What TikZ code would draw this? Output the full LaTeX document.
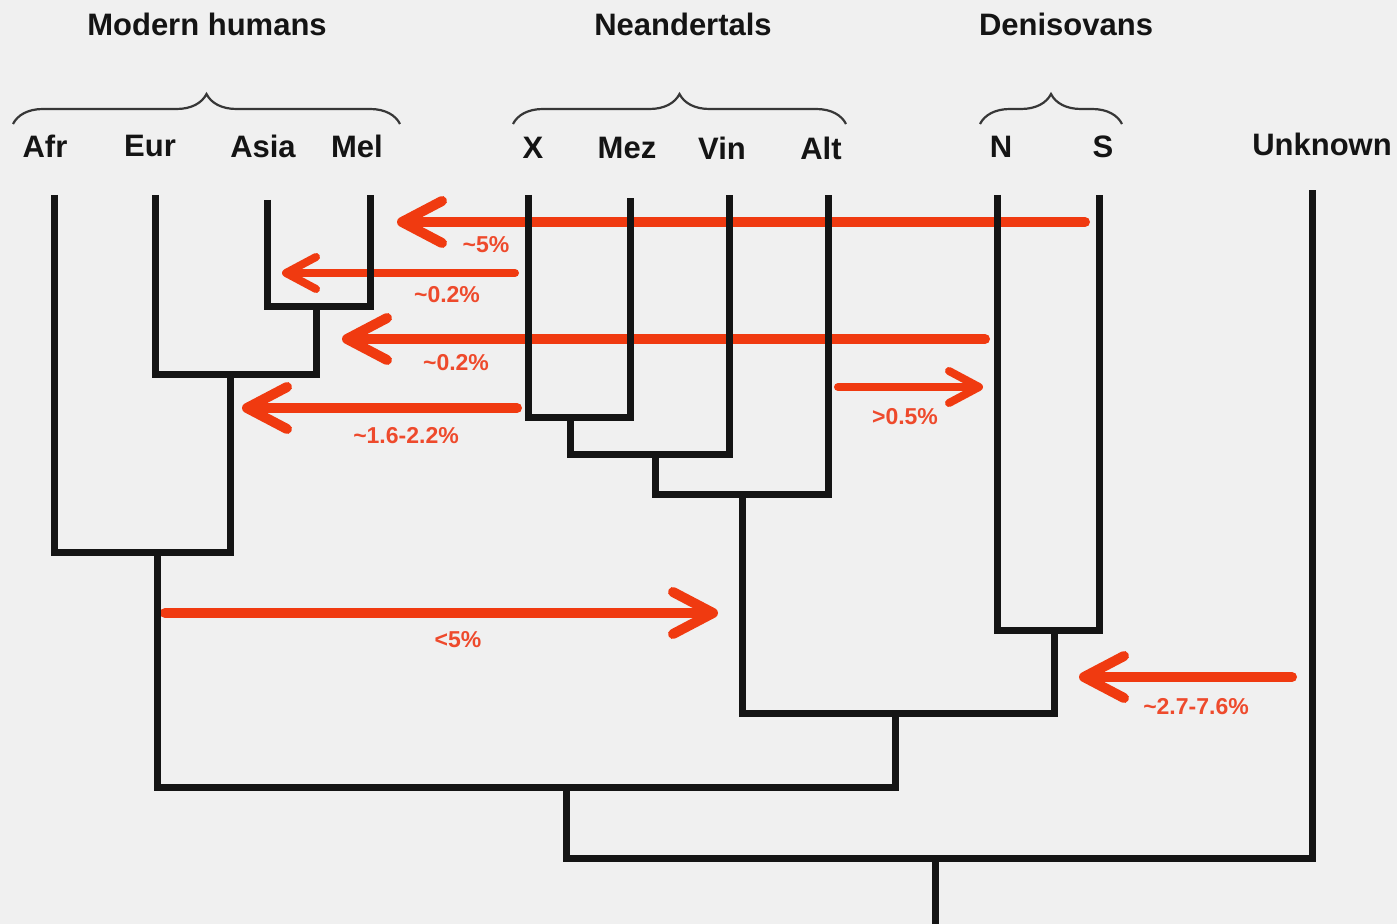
\documentclass[tikz,border=0pt]{standalone}
\usepackage{fontspec}
\setmainfont{Liberation Sans}
\usetikzlibrary{arrows.meta,decorations.pathreplacing}
\definecolor{bg}{HTML}{F0F0F0}
\definecolor{arr}{HTML}{F03A10}
\definecolor{lab}{HTML}{EE4A2C}
\definecolor{ink}{HTML}{141414}
\newcommand{\tld}{\char"007E\relax}
\begin{document}
\begin{tikzpicture}[x=0.5pt,y=-0.5pt,
  tree/.style={line width=3.5pt,draw=ink,line join=miter},
  mig/.style={line width=5pt,draw=arr,line cap=round,-{Straight Barb[round,length=20pt,width=21pt]}},
  migs/.style={line width=4pt,draw=arr,line cap=round,-{Straight Barb[round,length=15pt,width=16pt]}},
  grp/.style={font=\fontsize{15.5}{18}\selectfont\bfseries,text=ink,inner sep=0pt},
  tip/.style={font=\fontsize{15.5}{18}\selectfont\bfseries,text=ink,inner sep=0pt},
  lbl/.style={font=\fontsize{11.5}{13}\selectfont\bfseries,text=lab,inner sep=0pt},
  brc/.style={draw=ink!85,line width=1.1pt,decorate,decoration={brace,amplitude=15pt}}]
\fill[bg] (0,0) rectangle (1397,924);
\useasboundingbox (0,0) rectangle (1397,924);

% group titles
\node[grp] (tmh) at (207,24) {Modern humans};
\node[grp] (tne) at (683,24) {Neandertals};
\node[grp] (tde) at (1066,24) {Denisovans};

% braces
\draw[brc] (13,124) -- (400,124);
\draw[brc] (513,124) -- (846,124);
\draw[brc] (980,124) -- (1122,124);

% tip labels
\node[tip] (lafr) at (45,146) {Afr};
\node[tip] (leur) at (150,146) {Eur};
\node[tip] (lasia) at (263,146) {Asia};
\node[tip] (lmel) at (357,146) {Mel};
\node[tip] (lx) at (533,148) {X};
\node[tip] (lmez) at (627,148) {Mez};
\node[tip] (lvin) at (722,148) {Vin};
\node[tip] (lalt) at (821,148) {Alt};
\node[tip] (ln) at (1001,147) {N};
\node[tip] (ls) at (1103,147) {S};
\node[tip] (lunk) at (1322,144) {Unknown};

% migration arrows
\coordinate (a1s) at (1085,222); \coordinate (a1e) at (397,222);
\coordinate (a2s) at (515,273);  \coordinate (a2e) at (282,273);
\coordinate (a3s) at (985,339);  \coordinate (a3e) at (342,339);
\coordinate (a4s) at (517,408);  \coordinate (a4e) at (242,408);
\coordinate (a5s) at (838,387);  \coordinate (a5e) at (983,387);
\coordinate (a6s) at (165,613);  \coordinate (a6e) at (718,613);
\coordinate (a7s) at (1292,677); \coordinate (a7e) at (1079,677);
\draw[mig] (a1s) -- (a1e);
\draw[migs] (a2s) -- (a2e);
\draw[mig] (a3s) -- (a3e);
\draw[mig] (a4s) -- (a4e);
\draw[migs] (a5s) -- (a5e);
\draw[mig] (a6s) -- (a6e);
\draw[mig] (a7s) -- (a7e);

\node[lbl] (p1) at (486,245) {\tld5\%};
\node[lbl] (p2) at (447,295) {\tld0.2\%};
\node[lbl] (p3) at (456,363) {\tld0.2\%};
\node[lbl] (p4) at (406,436) {\tld1.6-2.2\%};
\node[lbl] (p5) at (905,417) {>0.5\%};
\node[lbl] (p6) at (458,640) {<5\%};
\node[lbl] (p7) at (1196,707) {\tld2.7-7.6\%};

% tree
\coordinate (afr) at (54,195);
\coordinate (eur) at (155,195);
\coordinate (asia) at (267,200);
\coordinate (mel) at (370,195);
\coordinate (x) at (528,195);
\coordinate (mez) at (630,198);
\coordinate (vin) at (729,195);
\coordinate (alt) at (828,195);
\coordinate (n) at (997,195);
\coordinate (s) at (1099,195);
\coordinate (unk) at (1312,190);

\coordinate (am) at (316,307);
\coordinate (eam) at (230,375);
\coordinate (mh) at (157,553);
\coordinate (xm) at (570,418);
\coordinate (xmv) at (655,455);
\coordinate (nea) at (742,495);
\coordinate (den) at (1054,630);
\coordinate (nd) at (895,713);
\coordinate (arch) at (566,787);
\coordinate (root) at (935,858);
\coordinate (rootend) at (935,930);

\draw[tree] (asia) |- (am) -| (mel);
\draw[tree] (eur) |- (eam) -| (am);
\draw[tree] (afr) |- (mh) -| (eam);
\draw[tree] (x) |- (xm) -| (mez);
\draw[tree] (xm) |- (xmv) -| (vin);
\draw[tree] (xmv) |- (nea) -| (alt);
\draw[tree] (n) |- (den) -| (s);
\draw[tree] (nea) |- (nd) -| (den);
\draw[tree] (mh) |- (arch) -| (nd);
\draw[tree] (arch) |- (root) -| (unk);
\draw[tree] (root) -- (rootend);
\end{tikzpicture}
\end{document}
